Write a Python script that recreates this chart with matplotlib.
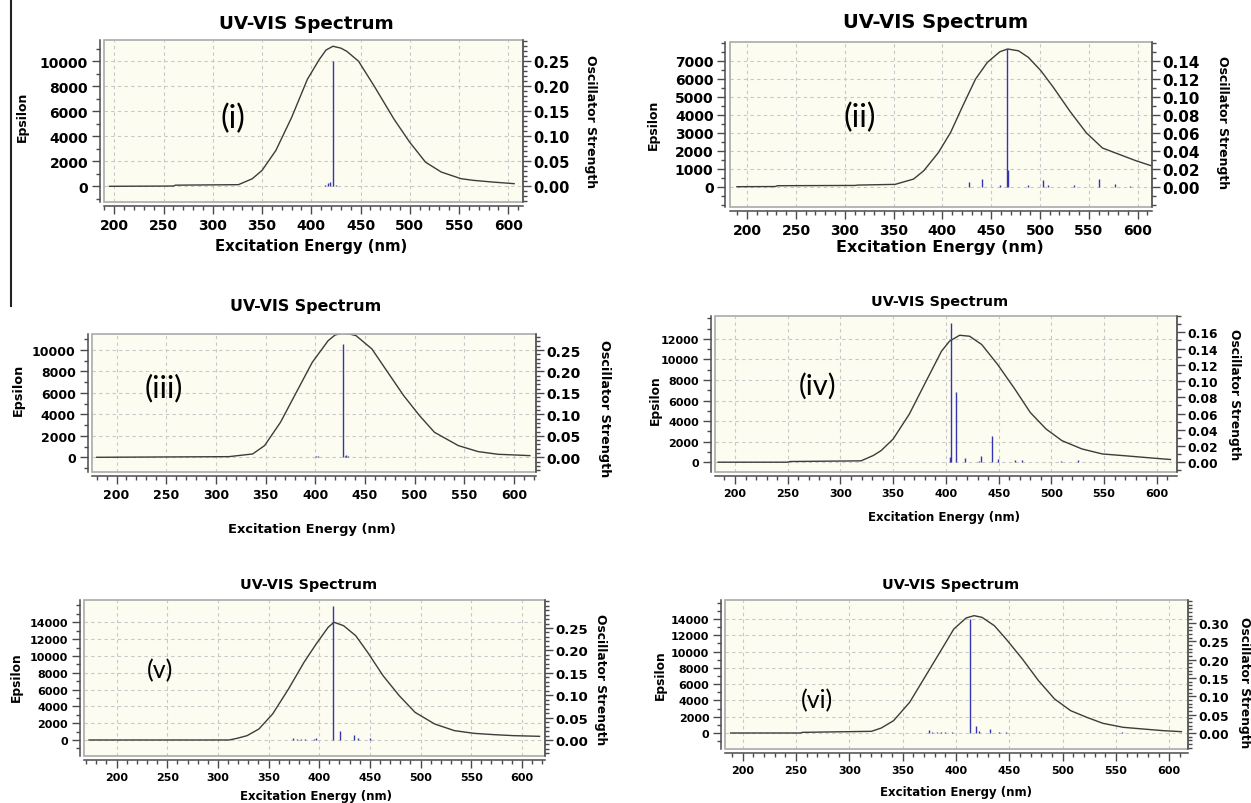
import matplotlib
matplotlib.use("Agg")
import numpy as np
import matplotlib.pyplot as plt
from matplotlib.ticker import MultipleLocator, FixedLocator, FormatStrFormatter
from matplotlib.patches import Rectangle
from matplotlib.lines import Line2D

plt.rcParams['font.family'] = ['DejaVu Sans']

W, H = 1251, 804

# ---- panel (i)
p1_curve_nm = [195, 260, 262, 326, 340, 350, 364, 380, 396, 408, 415, 422, 430, 436, 448,
               464, 484, 500, 516, 532, 552, 564, 584, 606]
p1_curve_eps = [0, 20, 90, 130, 600, 1270, 2860, 5500, 8550, 10130, 10900, 11200, 11050,
                10800, 10000, 8000, 5370, 3520, 1930, 1140, 610, 480, 340, 210]
p1_stick_nm = [414, 417, 419, 422, 425, 520, 535, 540, 545, 580, 585]
p1_stick_f = [0.003, 0.006, 0.009, 0.25, 0.002, 0.001, 0.0015, 0.001, 0.001, 0.001, 0.0015]

# ---- panel (ii)
p2_curve_nm = [189.5, 229, 231, 311, 313, 351.6, 370.5, 381, 396, 408.5, 421, 434, 446, 459,
               467, 478, 488, 501, 513.7, 530.6, 547.4, 564, 581, 598, 614.8]
p2_curve_eps = [0, 10, 55, 70, 90, 130, 425, 890, 1900, 3020, 4500, 5980, 6900, 7500,
                7650, 7550, 7190, 6440, 5520, 4200, 3000, 2150, 1800, 1450, 1150]
p2_stick_nm = [427, 441, 459, 466.5, 467, 488, 503, 508, 535, 561, 577, 592]
p2_stick_f = [0.005, 0.009, 0.002, 0.153, 0.018, 0.002, 0.007, 0.002, 0.002, 0.008, 0.003, 0.001]

# ---- panel (iii)
p3_curve_nm = [180, 313, 337, 349, 365, 381, 397, 413, 420, 427, 434, 441, 457, 473, 489,
               505, 520, 544, 564, 584, 600, 616]
p3_curve_eps = [0, 60, 310, 1090, 3260, 6060, 8850, 10870, 11400, 11550, 11500, 11340,
                10100, 7920, 5750, 3880, 2330, 1090, 530, 280, 220, 155]
p3_stick_nm = [401, 403, 427.7, 429.5, 431, 433, 437, 440, 475, 490, 520, 560]
p3_stick_f = [0.003, 0.002, 0.264, 0.004, 0.005, 0.003, 0.001, 0.001, 0.001, 0.001, 0.001, 0.001]

# ---- panel (iv)
p4_curve_nm = [184, 250, 252, 319.5, 331, 338.6, 350, 365.3, 380.5, 395.8, 403.4, 413,
               422.5, 434, 449, 465.5, 480, 495, 510, 529, 548.5, 567.6, 586.7, 613]
p4_curve_eps = [0, 0, 65, 130, 645, 1130, 2260, 4680, 7740, 10800, 11775, 12355, 12260,
                11450, 9520, 7100, 4840, 3230, 2100, 1290, 800, 645, 480, 260]
p4_stick_nm = [404.2, 404.6, 409.5, 418, 431, 433, 443.5, 449, 466, 472, 509, 525.6]
p4_stick_f = [0.006, 0.1715, 0.086, 0.0057, 0.002, 0.008, 0.032, 0.004, 0.0025, 0.0025,
              0.002, 0.003]

# ---- panel (v)
p5_curve_nm = [172.7, 311, 319, 328.8, 340.5, 354, 369.7, 385, 397, 408.8, 414.6, 424,
               436, 447.8, 463, 479, 494.6, 514, 533.6, 553, 572.6, 592, 617.5]
p5_curve_eps = [0, 0, 200, 515, 1310, 3090, 6070, 9240, 11420, 13400, 14000, 13600,
                12410, 10430, 7650, 5270, 3290, 1900, 1110, 790, 635, 515, 436]
p5_stick_nm = [374.4, 378, 382, 386, 395, 397, 413.4, 421, 434, 438, 449.7]
p5_stick_f = [0.005, 0.003, 0.002, 0.002, 0.002, 0.0045, 0.30, 0.019, 0.012, 0.0045, 0.004]

# ---- panel (vi)
p6_curve_nm = [188.7, 254.7, 256, 320.8, 330, 341.5, 356.6, 371.7, 386.8, 398, 409.5, 417,
               424.5, 436, 447, 462.3, 477.4, 492.5, 507.6, 522.7, 537.8, 556.7, 575.5,
               594.4, 611.4]
p6_curve_eps = [0, 0, 80, 205, 614, 1515, 3770, 7040, 10320, 12770, 14125, 14410, 14200,
                13180, 11545, 9090, 6430, 4175, 2740, 1924, 1190, 700, 490, 287, 164]
p6_stick_nm = [374.7, 378, 382, 386, 390, 396, 413.2, 418.9, 422, 432, 440, 447, 460, 475,
               495, 556]
p6_stick_f = [0.008, 0.004, 0.003, 0.003, 0.003, 0.004, 0.311, 0.018, 0.006, 0.011, 0.002,
              0.002, 0.001, 0.001, 0.001, 0.002]

tags = ['(i)', '(ii)', '(iii)', '(iv)', '(v)', '(vi)']
tag_pos = [(320, 5500), (315, 3860), (248, 6520), (278, 7530), (243, 8320), (270, 4090)]

title_text = 'UV-VIS Spectrum'
xlabel_text = 'Excitation Energy (nm)'
ylabel_text = 'Epsilon'
y2label_text = 'Oscillator Strength'

CREAM = '#fdfcf0'
GRID = '#c8c8c8'
AXC = '#4a4a4a'
CURVE = '#3c3c3c'
STICK = '#3535b0'


def frac(x, y):
    return x / W, 1 - y / H


def panel(box, nm, eps, snm, sf, xlim, ylim, y2lim, ymaj, ymin, ytop, y2maj, y2top,
          tag, tpos, tsize, txt, fs):
    l, r, t, b = box
    ax = fig.add_axes([l / W, 1 - b / H, (r - l) / W, (b - t) / H])
    ax.set_facecolor(CREAM)
    ax.set_xlim(*xlim)
    ax.set_ylim(*ylim)
    ax.plot(nm, eps, color=CURVE, lw=1.0, zorder=3)
    ax.grid(True, which='major', color=GRID, lw=0.8, ls=(0, (3, 3)))
    ax.xaxis.set_major_locator(FixedLocator(np.arange(200, 601, 50)))
    ax.xaxis.set_minor_locator(MultipleLocator(10))
    ax.yaxis.set_major_locator(FixedLocator(np.arange(0, ytop + 1, ymaj)))
    ax.yaxis.set_minor_locator(MultipleLocator(ymin))
    for s in ['top', 'right']:
        ax.spines[s].set_visible(False)
    ax.spines['left'].set_position(('outward', 3))
    ax.spines['bottom'].set_position(('outward', 3))
    for s in ['left', 'bottom']:
        ax.spines[s].set_color(AXC)
        ax.spines[s].set_linewidth(1.1)
    ax.tick_params(which='both', direction='out', color=AXC, width=1.0,
                   labelsize=fs['tick'], pad=3)
    ax.tick_params(which='major', length=5.5)
    ax.tick_params(which='minor', length=3)
    for lab in ax.get_xticklabels() + ax.get_yticklabels():
        lab.set_fontweight('bold')
    ax.add_patch(Rectangle((0, 0), 1, 1, transform=ax.transAxes, fill=False,
                           edgecolor='#aaaaaa', lw=1.2, clip_on=False, zorder=5))

    ax2 = ax.twinx()
    ax2.set_ylim(*y2lim)
    ax2.vlines(snm, 0, sf, color=STICK, lw=1.0, zorder=4)
    ax2.yaxis.set_major_locator(FixedLocator(np.arange(0, y2top + 1e-6, y2maj)))
    ax2.yaxis.set_minor_locator(MultipleLocator(0.01))
    ax2.yaxis.set_major_formatter(FormatStrFormatter('%.2f'))
    for s in ['top', 'left', 'bottom']:
        ax2.spines[s].set_visible(False)
    ax2.spines['right'].set_color(AXC)
    ax2.spines['right'].set_linewidth(1.1)
    ax2.tick_params(which='both', direction='out', color=AXC, width=1.0,
                    labelsize=fs['tick2'], pad=2)
    ax2.tick_params(which='major', length=5.5)
    ax2.tick_params(which='minor', length=3)
    for lab in ax2.get_yticklabels():
        lab.set_fontweight('bold')

    ax.text(tpos[0], tpos[1], tag, fontsize=tsize, family='Lato', ha='center',
            va='center', zorder=6)

    fig.text(*frac(*txt['title']), title_text, fontsize=fs['title'], fontweight='bold',
             ha='center', va='center')
    fig.text(*frac(*txt['xlab']), xlabel_text, fontsize=fs['xlab'], fontweight='bold',
             ha='center', va='center')
    fig.text(*frac(*txt['ylab']), ylabel_text, fontsize=fs['ylab'], fontweight='bold',
             ha='center', va='center', rotation=90)
    fig.text(*frac(*txt['y2lab']), y2label_text, fontsize=fs['ylab'], fontweight='bold',
             ha='center', va='center', rotation=270)
    return ax, ax2


fig = plt.figure(figsize=(W / 100, H / 100), dpi=100)

panel((104, 523, 41, 203), p1_curve_nm, p1_curve_eps, p1_stick_nm, p1_stick_f,
      (189.5, 615), (-1256, 11700), (-0.0314, 0.2926), 2000, 1000, 10000, 0.05, 0.25,
      tags[0], tag_pos[0], 23,
      {'title': (306, 24), 'xlab': (311, 246), 'ylab': (22, 117), 'y2lab': (591, 122)},
      {'tick': 10, 'tick2': 10.5, 'title': 13.2, 'xlab': 10.7, 'ylab': 9})

panel((729.5, 1152, 42.7, 208.3), p2_curve_nm, p2_curve_eps, p2_stick_nm, p2_stick_f,
      (181.9, 614.8), (-1144, 8055), (-0.0229, 0.1611), 1000, 500, 7000, 0.02, 0.14,
      tags[1], tag_pos[1], 23,
      {'title': (936, 22), 'xlab': (940, 248), 'ylab': (653, 125), 'y2lab': (1222, 123)},
      {'tick': 10, 'tick2': 11, 'title': 14, 'xlab': 11.5, 'ylab': 9})

panel((91.7, 535.8, 335, 473.3), p3_curve_nm, p3_curve_eps, p3_stick_nm, p3_stick_f,
      (175, 622), (-1398, 11490), (-0.035, 0.2873), 2000, 1000, 10000, 0.05, 0.25,
      tags[2], tag_pos[2], 22,
      {'title': (306, 307), 'xlab': (312, 530), 'ylab': (18, 390), 'y2lab': (605, 409)},
      {'tick': 9, 'tick2': 10, 'title': 11.4, 'xlab': 9.4, 'ylab': 9.2})

panel((715, 1176.8, 317, 473.3), p4_curve_nm, p4_curve_eps, p4_stick_nm, p4_stick_f,
      (181, 619), (-984, 14230), (-0.0123, 0.18), 2000, 1000, 12000, 0.02, 0.16,
      tags[3], tag_pos[3], 21,
      {'title': (940, 302), 'xlab': (944, 517), 'ylab': (655, 400), 'y2lab': (1234, 395)},
      {'tick': 8, 'tick2': 8.8, 'title': 10.4, 'xlab': 8.5, 'ylab': 8.8})

panel((84.2, 544.9, 601, 757.3), p5_curve_nm, p5_curve_eps, p5_stick_nm, p5_stick_f,
      (168, 622.8), (-1940, 16650), (-0.0364, 0.3125), 2000, 1000, 14000, 0.05, 0.25,
      tags[4], tag_pos[4], 18,
      {'title': (309, 585), 'xlab': (316, 797), 'ylab': (16, 677), 'y2lab': (601, 680)},
      {'tick': 8, 'tick2': 9.5, 'title': 10.4, 'xlab': 8.5, 'ylab': 8.8})

panel((725.4, 1188.2, 600.7, 750), p6_curve_nm, p6_curve_eps, p6_stick_nm, p6_stick_f,
      (183.8, 617.8), (-1965, 16370), (-0.0436, 0.3636), 2000, 1000, 14000, 0.05, 0.30,
      tags[5], tag_pos[5], 18,
      {'title': (951, 585), 'xlab': (956, 793), 'ylab': (660, 675), 'y2lab': (1244, 683)},
      {'tick': 8, 'tick2': 8.8, 'title': 10.4, 'xlab': 8.5, 'ylab': 8.8})

# stray vertical rule at the left edge of the page
fig.add_artist(Line2D([11 / W, 11 / W], [1, 1 - 307 / H], color='#222222', lw=1.5))

fig.savefig('out.png', dpi=100)
